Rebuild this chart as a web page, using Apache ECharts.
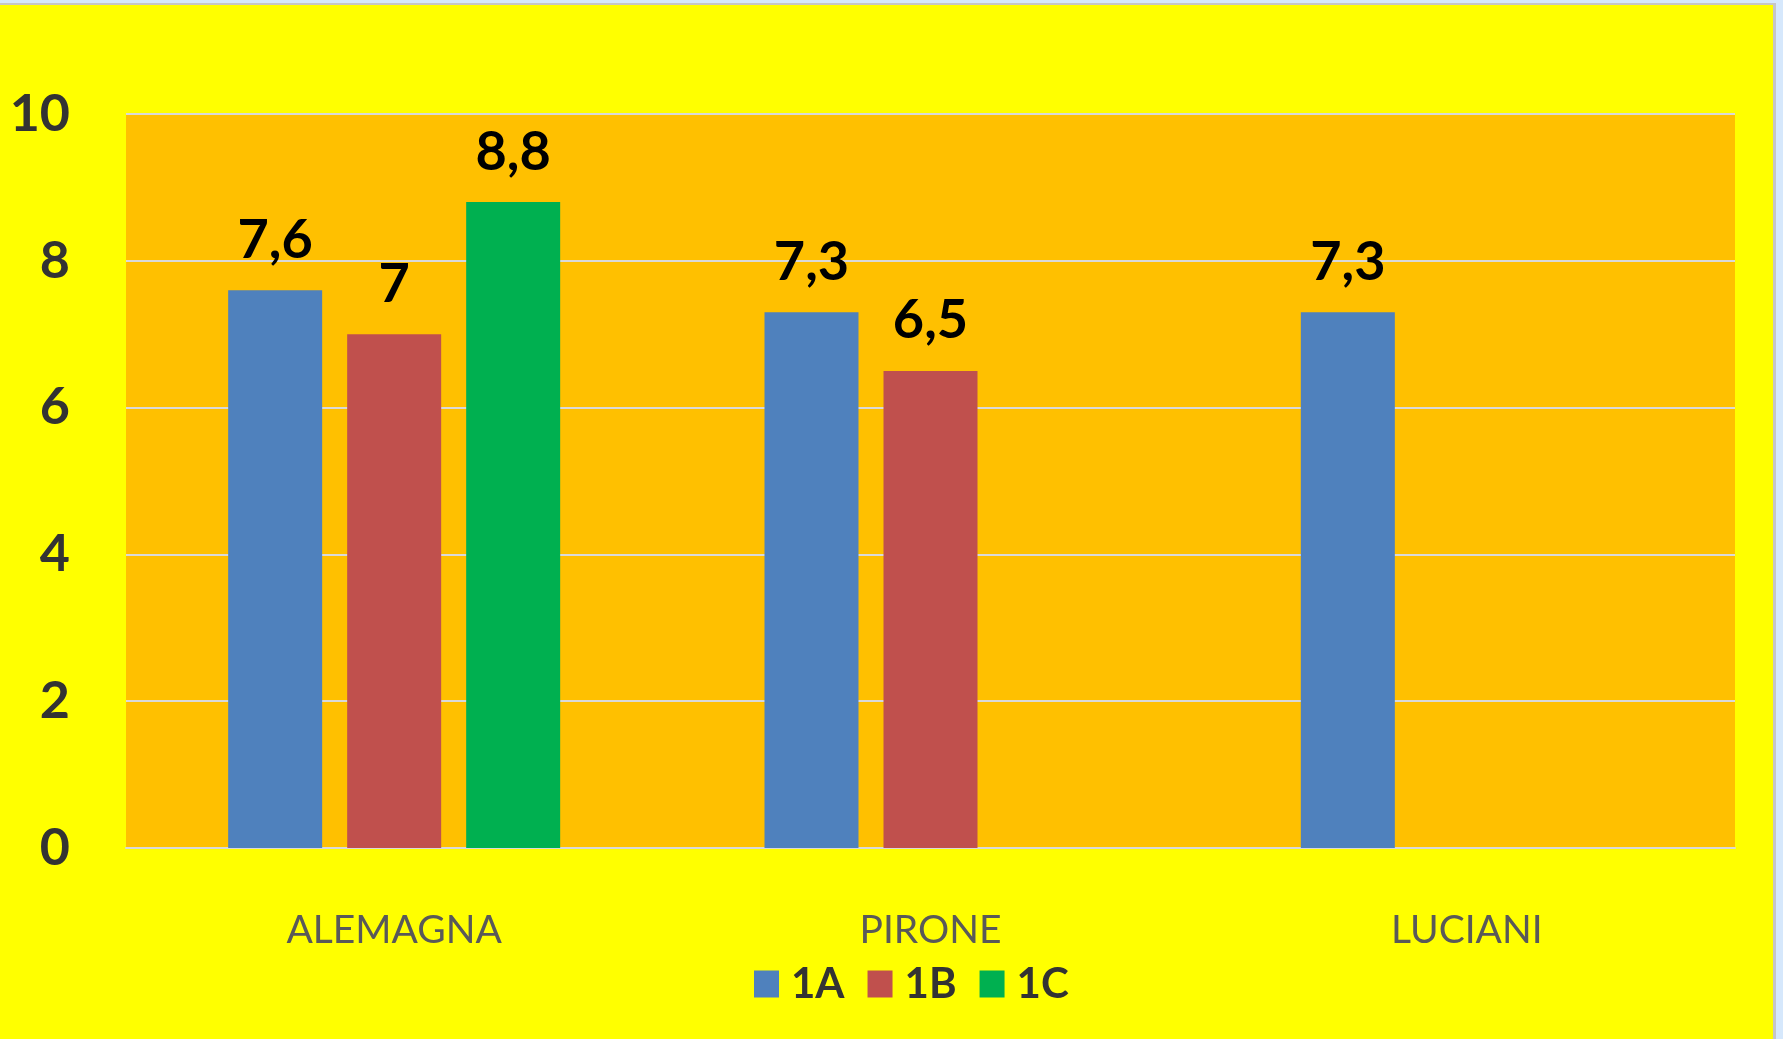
<!DOCTYPE html>
<html>
<head>
<meta charset="utf-8">
<title>Medie classi</title>
<script src="https://cdn.jsdelivr.net/npm/echarts@6/dist/echarts.min.js"></script>
<style>
    html, body { margin: 0; padding: 0; background: #d6e8fc; width: 1783px; height: 1039px; overflow: hidden; }
    #main {
        position: absolute; left: 0; top: 3px;
        width: 1773px; height: 1036px;
        border-top: 2px solid #c6c6c6;
        border-right: 3px solid #c6c6c6;
        background: #ffff00;
    }
</style>
</head>
<body>
<div id="main"></div>
<script>
// docenti (categorie)
var docenti = ['ALEMAGNA', 'PIRONE', 'LUCIANI'];
// medie per classe
var classe1A = [7.6, 7.3, 7.3];
var classe1B = [7, 6.5, null];
var classe1C = [8.8, null, null];
var yTicks = [0, 2, 4, 6, 8, 10];

var font = 'Lato, "Open Sans", sans-serif';

var chart = echarts.init(document.getElementById('main'));

// etichetta con la virgola decimale
function etichetta(p) {
    return String(p.value).replace('.', ',');
}

function serie(nome, dati, colore) {
    return {
        name: nome,
        type: 'bar',
        data: dati,
        barWidth: 94,
        barGap: '26.6%',
        itemStyle: { color: colore },
        label: {
            show: true,
            position: 'top',
            distance: 23,
            formatter: etichetta,
            fontFamily: font,
            fontWeight: 'bold',
            fontSize: 54,
            color: '#000'
        }
    };
}

var option = {
    backgroundColor: '#ffff00',
    animation: false,
    grid: {
        left: 126,
        right: 38,
        top: 109,
        bottom: 193,
        show: true,
        backgroundColor: '#ffc000',
        borderWidth: 0
    },
    legend: {
        left: 749,
        top: 953,
        itemWidth: 25,
        itemHeight: 27,
        itemGap: 23,
        icon: 'rect',
        data: ['1A', '1B', '1C'],
        textStyle: {
            fontFamily: font,
            fontWeight: 'bold',
            fontSize: 42,
            color: '#333',
            padding: [0, 0, 0, 7]
        }
    },
    xAxis: {
        type: 'category',
        data: docenti,
        axisLine: { show: true, lineStyle: { color: '#d9d9d9', width: 2 } },
        axisTick: { show: false },
        axisLabel: {
            margin: 63,
            fontFamily: font,
            fontSize: 39,
            color: '#595959'
        }
    },
    yAxis: {
        type: 'value',
        min: yTicks[0],
        max: yTicks[yTicks.length - 1],
        interval: 2,
        axisLine: { show: false },
        axisTick: { show: false },
        splitLine: { lineStyle: { color: '#d9d9d9', width: 2 } },
        axisLabel: {
            margin: 56,
            fontFamily: font,
            fontWeight: 'bold',
            fontSize: 52,
            color: '#333'
        }
    },
    series: [
        serie('1A', classe1A, '#4f81bd'),
        serie('1B', classe1B, '#c0504d'),
        serie('1C', classe1C, '#00b050')
    ]
};
chart.setOption(option);

window.onresize = function () {
    chart.resize();
};
</script>
</body>
</html>
